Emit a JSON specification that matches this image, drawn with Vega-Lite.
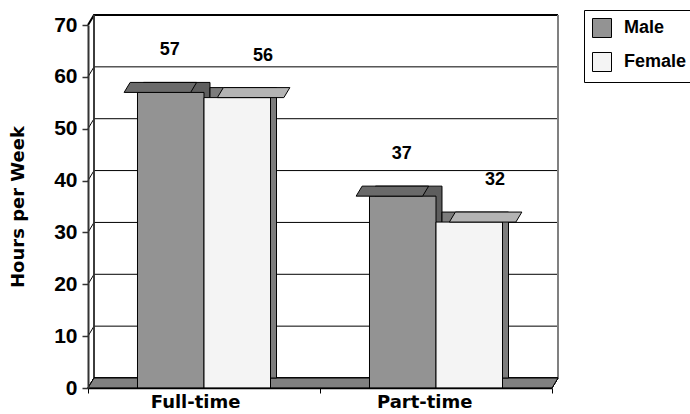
{
  "$schema": "https://vega.github.io/schema/vega-lite/v6.json",
  "width": 464,
  "height": 363,
  "autosize": "none",
  "padding": {"left": 88, "top": 25, "right": 138, "bottom": 26},
  "background": "white",
  "config": {"view": {"stroke": null}, "font": "Liberation Sans"},
  "data": {"values": [
    {"status": "Full-time", "sex": "Male", "hours": 57},
    {"status": "Full-time", "sex": "Female", "hours": 56},
    {"status": "Part-time", "sex": "Male", "hours": 37},
    {"status": "Part-time", "sex": "Female", "hours": 32}
  ]},
  "layer": [
    {
      "data": {"values": [{"g": 0}, {"g": 10}, {"g": 20}, {"g": 30}, {"g": 40}, {"g": 50}, {"g": 60}, {"g": 70}]},
      "mark": {"type": "point", "shape": "M 0 0 L 0.6 -1 L 47 -1", "size": 400, "filled": false, "fill": null, "stroke": "black", "opacity": 1},
      "encoding": {
        "x": {"datum": "Full-time", "bandPosition": 0, "type": "nominal", "scale": {"type": "band", "domain": ["Full-time", "Part-time"], "paddingInner": 0, "paddingOuter": 0}},
        "y": {"field": "g", "type": "quantitative", "scale": {"domain": [0, 70], "nice": false}},
        "strokeWidth": {"condition": {"test": "datum.g === 70", "value": 2}, "value": 1}
      }
    },
    {
      "mark": {"type": "rule", "xOffset": 6, "yOffset": -10, "y2Offset": -10, "color": "#303030", "strokeWidth": 1},
      "encoding": {
        "x": {"datum": "Full-time", "bandPosition": 0, "type": "nominal"},
        "y": {"datum": 0, "type": "quantitative"},
        "y2": {"datum": 70}
      }
    },
    {
      "mark": {"type": "rule", "xOffset": 6, "yOffset": -10, "y2Offset": -10, "color": "#808080", "strokeWidth": 2},
      "encoding": {
        "x": {"datum": "Part-time", "bandPosition": 1, "type": "nominal"},
        "y": {"datum": 0, "type": "quantitative"},
        "y2": {"datum": 70}
      }
    },
    {
      "mark": {"type": "point", "shape": "M -23.2 0 L 23.2 0 L 23.8 -1 L -22.6 -1 Z", "size": 400, "filled": true, "fill": "#808080", "stroke": "black", "strokeWidth": 1, "opacity": 1},
      "encoding": {
        "x": {"datum": "Part-time", "bandPosition": 0, "type": "nominal"},
        "y": {"datum": 0, "type": "quantitative"}
      }
    },
    {
      "mark": {"type": "bar", "yOffset": -10, "y2Offset": -10, "stroke": "black", "strokeWidth": 1},
      "encoding": {
        "x": {"field": "status", "type": "nominal"},
        "xOffset": {"field": "sex", "type": "nominal", "sort": ["Male", "Female"], "scale": {"paddingOuter": 0.744, "paddingInner": 0, "align": 0.5606}},
        "y": {"field": "hours", "type": "quantitative"},
        "fill": {"condition": {"test": "datum.sex === 'Male'", "value": "#5e5e5e"}, "value": "#7c7c7c"}
      }
    },
    {
      "mark": {"type": "bar", "stroke": "black", "strokeWidth": 1},
      "encoding": {
        "x": {"field": "status", "type": "nominal", "axis": {"title": null, "labelFont": "DejaVu Sans", "labelFontWeight": "bold", "labelFontSize": 18, "labelColor": "black", "labelAngle": 0, "domainColor": "black", "domainWidth": 1.5, "tickColor": "black", "tickSize": 5, "tickBand": "extent", "labelPadding": 9, "labelOffset": 36, "zindex": 1, "grid": false}},
        "xOffset": {"field": "sex", "type": "nominal", "sort": ["Male", "Female"], "scale": {"paddingOuter": 0.744, "paddingInner": 0}},
        "y": {"field": "hours", "type": "quantitative", "axis": {"values": [0, 10, 20, 30, 40, 50, 60, 70], "title": "Hours per Week", "titleFont": "DejaVu Sans", "titleFontWeight": "bold", "titleFontSize": 18, "titleColor": "black", "titlePadding": 26, "labelFont": "Liberation Sans", "labelFontWeight": "bold", "labelFontSize": 21, "labelColor": "black", "labelPadding": 5, "tickSize": 6, "tickColor": "#333333", "tickWidth": 1.5, "domainColor": "#333333", "domainWidth": 2, "grid": false, "zindex": 1}},
        "fill": {"field": "sex", "type": "nominal", "sort": ["Male", "Female"], "scale": {"domain": ["Male", "Female"], "range": ["#939393", "#f4f4f4"]},
          "legend": {"orient": "none", "legendX": 496, "legendY": -15, "title": null, "direction": "vertical", "symbolType": "square", "symbolSize": 361, "symbolStrokeColor": "black", "symbolStrokeWidth": 1, "labelFont": "Liberation Sans", "labelFontWeight": "bold", "labelFontSize": 18, "labelColor": "black", "labelOffset": 12, "rowPadding": 10, "padding": 8, "strokeColor": "black", "fillColor": "white"}}
      }
    },
    {
      "mark": {"type": "point", "shape": "M -3.325 0 L 3.325 0 L 3.925 -1 L -2.725 -1 Z", "size": 400, "filled": true, "stroke": "black", "strokeWidth": 1, "opacity": 1},
      "encoding": {
        "x": {"field": "status", "type": "nominal"},
        "xOffset": {"field": "sex", "type": "nominal", "sort": ["Male", "Female"], "scale": {"paddingOuter": 0.744, "paddingInner": 0}},
        "y": {"field": "hours", "type": "quantitative"},
        "fill": {"condition": {"test": "datum.sex === 'Male'", "value": "#6a6a6a"}, "value": "#b4b4b4"}
      }
    },
    {
      "mark": {"type": "text", "dx": 12.5, "dy": -42, "baseline": "middle", "align": "center", "font": "Liberation Sans", "fontWeight": "bold", "fontSize": 18, "color": "black"},
      "encoding": {
        "x": {"field": "status", "type": "nominal"},
        "xOffset": {"field": "sex", "type": "nominal", "sort": ["Male", "Female"], "scale": {"paddingOuter": 0.744, "paddingInner": 0}},
        "y": {"field": "hours", "type": "quantitative"},
        "text": {"field": "hours", "type": "quantitative"}
      }
    }
  ],
  "resolve": {"scale": {"xOffset": "independent"}}
}
